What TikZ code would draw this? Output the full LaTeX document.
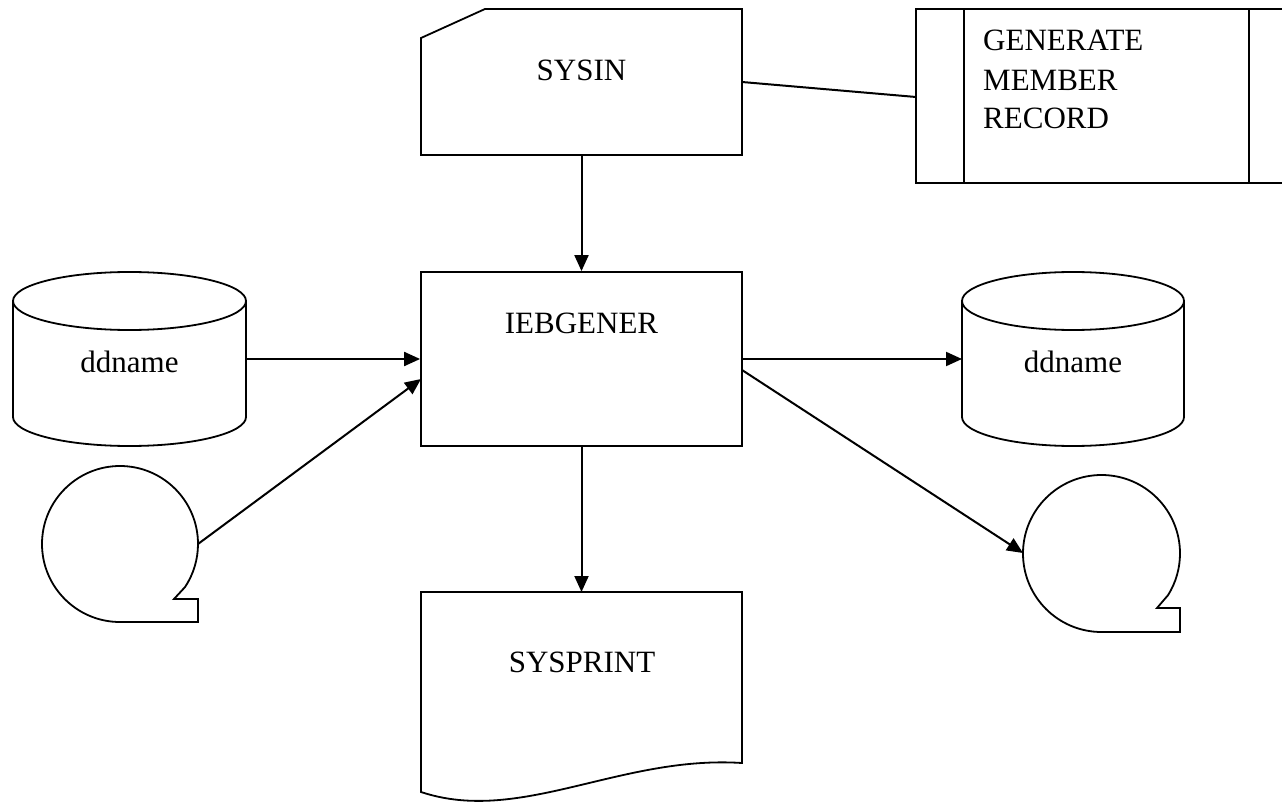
\documentclass[tikz,border=0pt]{standalone}
\usepackage{fontspec}
\setmainfont{Liberation Serif}
\usetikzlibrary{arrows.meta}
\begin{document}
\begin{tikzpicture}[x=1pt,y=-1pt,
  outline/.style={draw=black,line width=1.8pt,line join=miter},
  conn/.style={draw=black,line width=2pt},
  flow/.style={conn,-{Triangle[length=16pt,width=14pt]}},
  lbl/.style={font=\fontsize{31}{39}\selectfont,inner sep=0pt}]
\useasboundingbox (0,0) rectangle (1282,802);
\clip (0,0) rectangle (1282,802);

% SYSIN punched card
\draw[outline] (485,9) -- (742,9) -- (742,155) -- (421,155) -- (421,38) -- cycle;
\node[lbl] (sysin) at (581.5,70) {SYSIN};
\coordinate (sysinS) at (581.5,155);
\coordinate (sysinE) at (742,82);

% GENERATE MEMBER RECORD predefined process
\draw[outline] (916,9) rectangle (1300,183);
\draw[outline] (964,9) -- (964,183);
\draw[outline] (1249,9) -- (1249,183);
\node[lbl,anchor=base west] (gen1) at (983,51) {GENERATE};
\node[lbl,anchor=base west] (gen2) at (983,91) {MEMBER};
\node[lbl,anchor=base west] (gen3) at (983,129) {RECORD};
\coordinate (genW) at (916,97);

% IEBGENER process box
\node[outline,minimum width=321pt,minimum height=174pt,inner sep=0pt] (ieb) at (581.5,359) {};
\node[lbl] (iebtxt) at (581.5,323) {IEBGENER};
\coordinate (iebInTape) at (421,379);
\coordinate (iebOutTape) at (742,370);

% input disk
\draw[outline,fill=white] (13,301) -- (13,417)
  arc[start angle=180,end angle=0,x radius=116.5,y radius=29] -- (246,301);
\draw[outline] (129.5,301) ellipse [x radius=116.5,y radius=29];
\node[lbl] (ddin) at (129.5,362) {ddname};
\coordinate (ddinE) at (246,359);

% output disk
\draw[outline,fill=white] (962,301) -- (962,417)
  arc[start angle=180,end angle=0,x radius=111,y radius=29] -- (1184,301);
\draw[outline] (1073,301) ellipse [x radius=111,y radius=29];
\node[lbl] (ddout) at (1073,362) {ddname};
\coordinate (ddoutW) at (962,359);

% input tape
\draw[outline] (120,622) arc[start angle=90,end angle=393.5,radius=78]
  -- (174,599) -- (198,599) -- (198,622) -- cycle;
\coordinate (tapeinE) at (198,544);

% output tape
\draw[outline] (1101.5,632) arc[start angle=90,end angle=392,radius=78.5]
  -- (1157,608) -- (1180,608) -- (1180,632) -- cycle;
\coordinate (tapeoutW) at (1023,553);

% SYSPRINT document
\draw[outline] (421,592) -- (742,592) -- (742,763)
  .. controls (620,755) and (520,825) .. (421,792) -- cycle;
\node[lbl] (sysprint) at (582,662) {SYSPRINT};
\coordinate (printN) at (581.5,592);

% connectors
\draw[conn] (sysinE) -- (genW);
\draw[flow] (sysinS) -- (ieb.north);
\draw[flow] (ddinE) -- (ieb.west);
\draw[flow] (tapeinE) -- (iebInTape);
\draw[flow] (ieb.east) -- (ddoutW);
\draw[flow] (iebOutTape) -- (tapeoutW);
\draw[flow] (ieb.south) -- (printN);
\end{tikzpicture}
\end{document}
